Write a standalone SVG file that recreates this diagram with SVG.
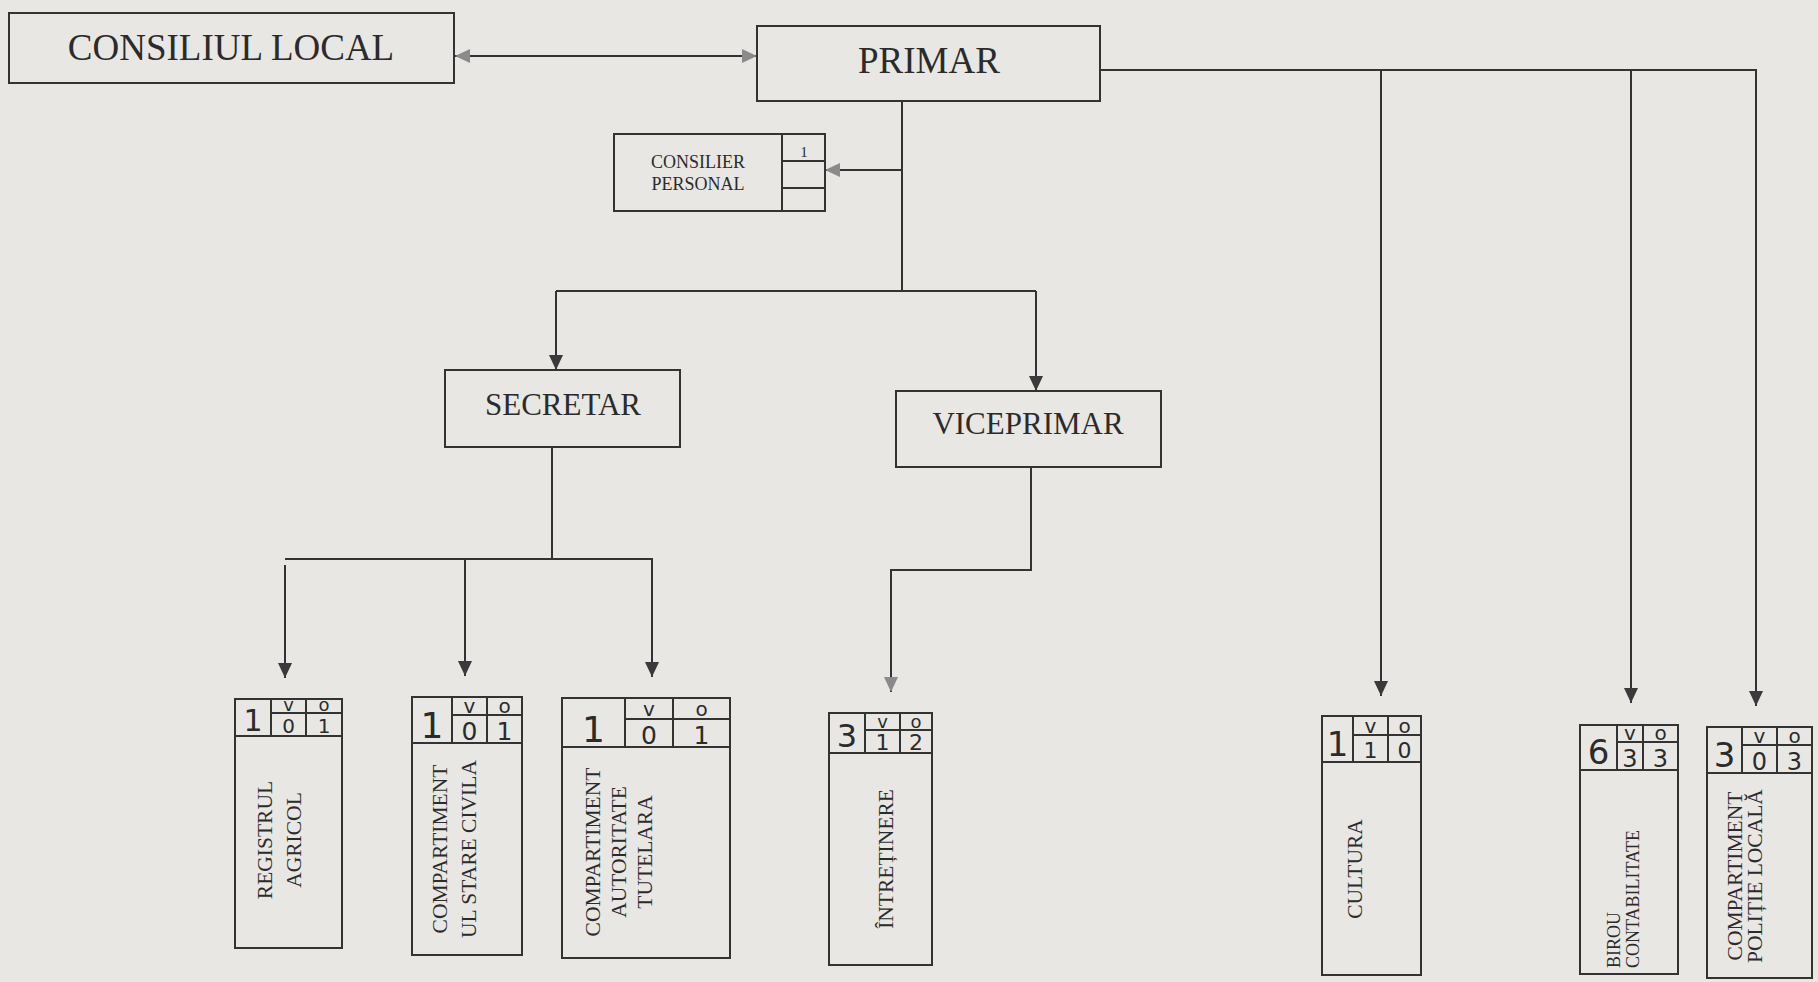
<svg xmlns="http://www.w3.org/2000/svg" width="1818" height="982" viewBox="0 0 1818 982">
<style>
.bx{fill:none;stroke:#333;stroke-width:2}
.ln{fill:none;stroke:#333;stroke-width:2}
.t{font-family:"Liberation Serif","Times New Roman",serif;fill:#2b2b2b}
.big{font-size:37px}
.mid{font-size:31px}
.sm{font-size:18px}
.rot{font-size:21.5px;text-anchor:middle}
.hw{font-family:"DejaVu Sans","Liberation Sans",sans-serif;fill:#2b2b2b;text-anchor:middle}
</style>
<defs>
<marker id="arr" markerUnits="userSpaceOnUse" markerWidth="15" markerHeight="14" refX="15" refY="7" orient="auto-start-reverse" viewBox="0 0 15 14">
<path d="M0,0 L15,7 L0,14 z" fill="#3a3a3a"/>
</marker>
<marker id="arrL" markerUnits="userSpaceOnUse" markerWidth="15" markerHeight="14" refX="15" refY="7" orient="auto-start-reverse" viewBox="0 0 15 14">
<path d="M0,0 L15,7 L0,14 z" fill="#8a8a8a"/>
</marker>
</defs>
<rect x="0" y="0" width="1818" height="982" fill="#e8e7e3"/>

<g id="connectors">
<line class="ln" x1="455" y1="56" x2="757" y2="56" marker-start="url(#arrL)" marker-end="url(#arrL)"/>
<path class="ln" d="M902 101 V291"/>
<path class="ln" d="M902 170 H825" marker-end="url(#arrL)"/>
<path class="ln" d="M556 291 H1036"/>
<path class="ln" d="M556 291 V370" marker-end="url(#arr)"/>
<path class="ln" d="M1036 291 V391" marker-end="url(#arr)"/>
<path class="ln" d="M552 447 V559"/>
<path class="ln" d="M285 559 H653"/>
<path class="ln" d="M285 565 V678" marker-end="url(#arr)"/>
<path class="ln" d="M465 559 V676" marker-end="url(#arr)"/>
<path class="ln" d="M652 559 V677" marker-end="url(#arr)"/>
<path class="ln" d="M1031 467 V570 H891 V692" marker-end="url(#arrL)"/>
<path class="ln" d="M1100 70 H1756 V706" marker-end="url(#arr)"/>
<path class="ln" d="M1381 70 V696" marker-end="url(#arr)"/>
<path class="ln" d="M1631 70 V703" marker-end="url(#arr)"/>
</g>

<g id="consiliul-local">
<rect class="bx" x="9" y="13" width="445" height="70"/>
<text class="t big" x="231" y="60" text-anchor="middle">CONSILIUL LOCAL</text>
</g>

<g id="primar">
<rect class="bx" x="757" y="26" width="343" height="75"/>
<text class="t big" x="929" y="73" text-anchor="middle">PRIMAR</text>
</g>

<g id="consilier-personal">
<rect class="bx" x="614" y="134" width="211" height="77"/>
<path class="ln" d="M782 134 V211 M782 161 H825 M782 188 H825"/>
<text class="t" x="804" y="157" font-size="15" text-anchor="middle">1</text>
<text class="t sm" x="698" y="168" text-anchor="middle">CONSILIER</text>
<text class="t sm" x="698" y="190" text-anchor="middle">PERSONAL</text>
</g>

<g id="secretar">
<rect class="bx" x="445" y="370" width="235" height="77"/>
<text class="t mid" x="563" y="415" text-anchor="middle">SECRETAR</text>
</g>

<g id="viceprimar">
<rect class="bx" x="896" y="391" width="265" height="76"/>
<text class="t mid" x="1028" y="434" text-anchor="middle">VICEPRIMAR</text>
</g>

<g id="registrul-agricol">
<rect class="bx" x="235" y="699" width="107" height="249"/>
<path class="ln" d="M235 736 H342 M271 699 V736 M306 699 V736 M271 713 H342"/>
<text class="hw" x="253" y="731" font-size="30">1</text>
<text class="hw" x="288.5" y="711" font-size="18">v</text>
<text class="hw" x="324" y="711" font-size="18">o</text>
<text class="hw" x="288.5" y="733" font-size="20">0</text>
<text class="hw" x="324" y="733" font-size="20">1</text>
<text class="t rot" transform="translate(272,840) rotate(-90)">REGISTRUL</text>
<text class="t rot" transform="translate(301,840) rotate(-90)">AGRICOL</text>
</g>

<g id="stare-civila">
<rect class="bx" x="412" y="697" width="110" height="258"/>
<path class="ln" d="M412 743 H522 M452 697 V743 M487 697 V743 M452 715 H522"/>
<text class="hw" x="432" y="738" font-size="36">1</text>
<text class="hw" x="469.5" y="713" font-size="20">v</text>
<text class="hw" x="504.5" y="713" font-size="20">o</text>
<text class="hw" x="469.5" y="740" font-size="25">0</text>
<text class="hw" x="504.5" y="740" font-size="25">1</text>
<text class="t rot" transform="translate(447,849) rotate(-90)">COMPARTIMENT</text>
<text class="t rot" transform="translate(476,849) rotate(-90)">UL STARE CIVILA</text>
</g>

<g id="autoritate-tutelara">
<rect class="bx" x="562" y="698" width="168" height="260"/>
<path class="ln" d="M562 747 H730 M625 698 V747 M673 698 V747 M625 719 H730"/>
<text class="hw" x="593.5" y="742" font-size="36">1</text>
<text class="hw" x="649" y="716" font-size="20">v</text>
<text class="hw" x="701.5" y="716" font-size="20">o</text>
<text class="hw" x="649" y="744" font-size="25">0</text>
<text class="hw" x="701.5" y="744" font-size="25">1</text>
<text class="t rot" transform="translate(600,852) rotate(-90)">COMPARTIMENT</text>
<text class="t rot" transform="translate(626,852) rotate(-90)">AUTORITATE</text>
<text class="t rot" transform="translate(652,852) rotate(-90)">TUTELARA</text>
</g>

<g id="intretinere">
<rect class="bx" x="829" y="713" width="103" height="252"/>
<path class="ln" d="M829 753 H932 M865 713 V753 M900 713 V753 M865 730 H932"/>
<text class="hw" x="847" y="747" font-size="32">3</text>
<text class="hw" x="882.5" y="728" font-size="18">v</text>
<text class="hw" x="916" y="728" font-size="18">o</text>
<text class="hw" x="882.5" y="750" font-size="22">1</text>
<text class="hw" x="916" y="750" font-size="22">2</text>
<text class="t rot" transform="translate(893,859) rotate(-90)">ÎNTREȚINERE</text>
</g>

<g id="cultura">
<rect class="bx" x="1322" y="716" width="99" height="259"/>
<path class="ln" d="M1322 762 H1421 M1353 716 V762 M1388 716 V762 M1353 735 H1421"/>
<text class="hw" x="1337.5" y="756" font-size="34">1</text>
<text class="hw" x="1370.5" y="733" font-size="20">v</text>
<text class="hw" x="1404.5" y="733" font-size="20">o</text>
<text class="hw" x="1370.5" y="758" font-size="22">1</text>
<text class="hw" x="1404.5" y="758" font-size="22">0</text>
<text class="t rot" transform="translate(1362,869) rotate(-90)">CULTURA</text>
</g>

<g id="birou-contabilitate">
<rect class="bx" x="1580" y="725" width="98" height="249"/>
<path class="ln" d="M1580 770 H1678 M1617 725 V770 M1643 725 V770 M1617 742 H1678"/>
<text class="hw" x="1598.5" y="764" font-size="34">6</text>
<text class="hw" x="1630" y="740" font-size="20">v</text>
<text class="hw" x="1660.5" y="740" font-size="20">o</text>
<text class="hw" x="1630" y="767" font-size="24">3</text>
<text class="hw" x="1660.5" y="767" font-size="24">3</text>
<text class="t" font-size="18" transform="translate(1620,968) rotate(-90)">BIROU</text>
<text class="t" font-size="18" transform="translate(1639,968) rotate(-90)">CONTABILITATE</text>
</g>

<g id="politie-locala">
<rect class="bx" x="1707" y="727" width="105" height="251"/>
<path class="ln" d="M1707 773 H1812 M1742 727 V773 M1777 727 V773 M1742 745 H1812"/>
<text class="hw" x="1724.5" y="767" font-size="34">3</text>
<text class="hw" x="1759.5" y="743" font-size="20">v</text>
<text class="hw" x="1794.5" y="743" font-size="20">o</text>
<text class="hw" x="1759.5" y="770" font-size="24">0</text>
<text class="hw" x="1794.5" y="770" font-size="24">3</text>
<text class="t rot" transform="translate(1742,876) rotate(-90)">COMPARTIMENT</text>
<text class="t rot" transform="translate(1762,876) rotate(-90)">POLIȚIE LOCALĂ</text>
</g>
</svg>
